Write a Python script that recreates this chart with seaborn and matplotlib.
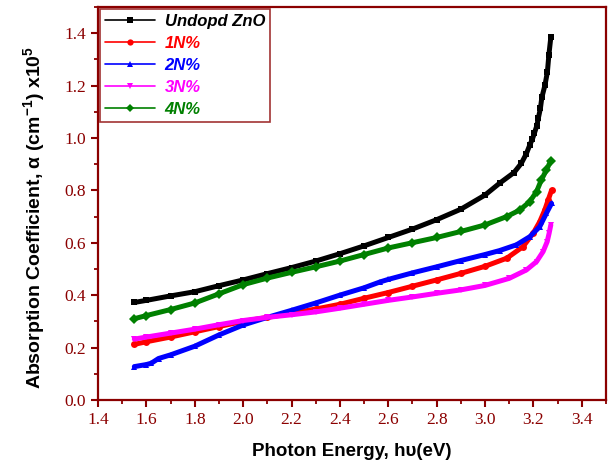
import matplotlib
matplotlib.use("Agg")
import matplotlib.pyplot as plt
import seaborn as sns
import pandas as pd
from matplotlib.ticker import MultipleLocator

# ---- data ----
x_undoped = [1.55, 1.60, 1.70, 1.80, 1.90, 2.00, 2.10, 2.20, 2.30, 2.40, 2.50, 2.60, 2.70,
             2.80, 2.90, 3.00, 3.06, 3.12, 3.15, 3.171, 3.185, 3.196, 3.204, 3.214, 3.221,
             3.229, 3.235, 3.248, 3.258, 3.264, 3.272]
y_undoped = [0.372, 0.380, 0.397, 0.413, 0.436, 0.458, 0.482, 0.505, 0.530, 0.558, 0.588,
             0.620, 0.652, 0.688, 0.728, 0.782, 0.827, 0.868, 0.903, 0.940, 0.973, 0.996,
             1.018, 1.046, 1.078, 1.113, 1.155, 1.202, 1.253, 1.317, 1.384]

x_1n = [1.55, 1.60, 1.70, 1.80, 1.90, 2.00, 2.10, 2.20, 2.30, 2.40, 2.50, 2.60, 2.70, 2.80,
        2.90, 3.00, 3.09, 3.157, 3.199, 3.226, 3.247, 3.261, 3.275]
y_1n = [0.212, 0.222, 0.240, 0.260, 0.280, 0.300, 0.315, 0.330, 0.347, 0.365, 0.388, 0.410,
        0.434, 0.458, 0.483, 0.510, 0.541, 0.585, 0.636, 0.680, 0.725, 0.763, 0.800]

x_2n = [1.55, 1.60, 1.62, 1.65, 1.70, 1.80, 1.90, 2.00, 2.10, 2.20, 2.30, 2.40, 2.50, 2.565,
        2.60, 2.70, 2.80, 2.90, 3.00, 3.06, 3.13, 3.185, 3.226, 3.254, 3.275]
y_2n = [0.127, 0.135, 0.140, 0.158, 0.172, 0.205, 0.248, 0.286, 0.315, 0.342, 0.370, 0.400,
        0.428, 0.450, 0.460, 0.485, 0.508, 0.532, 0.555, 0.570, 0.592, 0.623, 0.661, 0.713,
        0.750]

x_3n = [1.55, 1.60, 1.70, 1.80, 1.90, 2.00, 2.10, 2.20, 2.30, 2.40, 2.50, 2.60, 2.70, 2.80,
        2.90, 3.00, 3.10, 3.171, 3.213, 3.240, 3.257, 3.265, 3.272]
y_3n = [0.232, 0.240, 0.255, 0.270, 0.287, 0.303, 0.315, 0.325, 0.336, 0.350, 0.365, 0.380,
        0.393, 0.407, 0.420, 0.437, 0.464, 0.496, 0.528, 0.566, 0.604, 0.636, 0.668]

x_4n = [1.55, 1.60, 1.70, 1.80, 1.90, 2.00, 2.10, 2.20, 2.30, 2.40, 2.50, 2.60, 2.70, 2.80,
        2.90, 3.00, 3.09, 3.144, 3.185, 3.213, 3.233, 3.254, 3.272]
y_4n = [0.310, 0.322, 0.345, 0.370, 0.405, 0.440, 0.465, 0.487, 0.508, 0.530, 0.555, 0.580,
        0.600, 0.620, 0.643, 0.668, 0.700, 0.725, 0.757, 0.795, 0.840, 0.878, 0.913]

labels = ["Undopd ZnO", "1N%", "2N%", "3N%", "4N%"]
colors = ["#000000", "#ff0000", "#0000ff", "#ff00ff", "#008000"]
markers = ["s", "o", "^", "v", "D"]

xs = [x_undoped, x_1n, x_2n, x_3n, x_4n]
ys = [y_undoped, y_1n, y_2n, y_3n, y_4n]

frames = []
for lab, xv, yv in zip(labels, xs, ys):
    frames.append(pd.DataFrame({"E": xv, "alpha": yv, "sample": lab}))
df = pd.concat(frames, ignore_index=True)

sns.set_theme(style="white")
plt.rcParams["mathtext.fontset"] = "custom"
plt.rcParams["mathtext.rm"] = "Liberation Sans:bold"
plt.rcParams["mathtext.bf"] = "Liberation Sans:bold"
plt.rcParams["mathtext.it"] = "Liberation Sans:bold"

axc = "#8b0000"
fig = plt.figure(figsize=(6.09, 4.65), dpi=100)
ax = fig.add_axes([0.161, 0.140, 0.834, 0.845])

for lab, col, mk in zip(labels, colors, markers):
    sub = df[df["sample"] == lab]
    sns.lineplot(data=sub, x="E", y="alpha", ax=ax, color=col, marker=mk,
                 markersize=5, markeredgewidth=0, linewidth=3.6,
                 label=lab, sort=False, estimator=None)

ax.set_xlim(1.4, 3.5)
ax.set_ylim(0.0, 1.5)
ax.xaxis.set_major_locator(MultipleLocator(0.2))
ax.xaxis.set_minor_locator(MultipleLocator(0.1))
ax.yaxis.set_major_locator(MultipleLocator(0.2))
ax.yaxis.set_minor_locator(MultipleLocator(0.1))

for s in ax.spines.values():
    s.set_color(axc)
    s.set_linewidth(1.6)

ax.tick_params(axis="both", which="major", direction="out", length=5, width=1.5,
               color=axc, labelcolor=axc, bottom=True, left=True, top=False, right=False)
ax.tick_params(axis="both", which="minor", direction="out", length=3, width=1.3,
               color=axc, bottom=True, left=True, top=False, right=False)
ax.set_xticks([1.4, 1.6, 1.8, 2.0, 2.2, 2.4, 2.6, 2.8, 3.0, 3.2, 3.4])
ax.set_xticklabels(["1.4", "1.6", "1.8", "2.0", "2.2", "2.4", "2.6", "2.8", "3.0", "3.2", "3.4"],
                   fontfamily="Liberation Serif", fontsize=12.5, color=axc)
ax.set_yticks([0.0, 0.2, 0.4, 0.6, 0.8, 1.0, 1.2, 1.4])
ax.set_yticklabels(["0.0", "0.2", "0.4", "0.6", "0.8", "1.0", "1.2", "1.4"],
                   fontfamily="Liberation Serif", fontsize=12.5, color=axc)

ax.set_xlabel("Photon Energy, h\u03c5(eV)", fontfamily="Liberation Sans", fontweight="bold",
              fontsize=13.5, color="black", labelpad=11)
ax.set_ylabel("Absorption Coefficient, \u03b1 (cm$^{-1}$) x10$^{5}$", fontfamily="Liberation Sans",
              fontweight="bold", fontsize=14, color="black")
ax.yaxis.set_label_coords(-0.100, 0.465)

leg = ax.legend(loc="upper left", bbox_to_anchor=(0.0, 1.0), frameon=True, fancybox=False,
                handlelength=3.0, handletextpad=0.6, borderpad=0.3, labelspacing=0.42,
                prop={"family": "Liberation Sans", "weight": "bold", "style": "italic", "size": 12},
                borderaxespad=0.1)
leg.get_frame().set_edgecolor(axc)
leg.get_frame().set_linewidth(1.2)
for txt, col in zip(leg.get_texts(), colors):
    txt.set_color(col)
for h in leg.legend_handles:
    h.set_linewidth(1.2)
    h.set_markersize(4.5)

fig.savefig("out.png", dpi=100)
